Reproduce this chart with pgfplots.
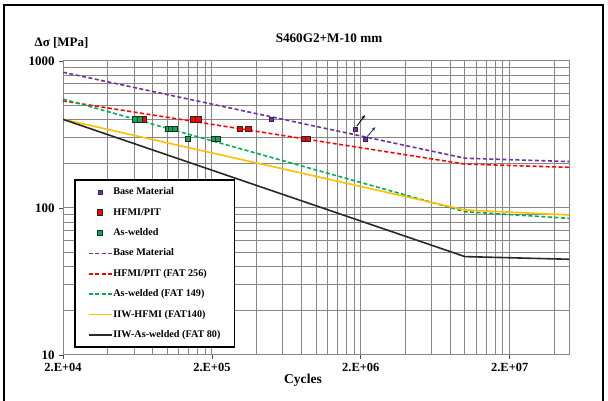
\documentclass[border=0pt]{standalone}
\usepackage{fontspec}
\setmainfont{Liberation Serif}
\usepackage{pgfplots}
\pgfplotsset{compat=1.18}
\usetikzlibrary{arrows.meta}

\definecolor{bmpurple}{RGB}{112,48,160}
\definecolor{hfred}{RGB}{255,0,0}
\definecolor{awgreen}{RGB}{0,176,80}
\definecolor{iiwyellow}{RGB}{255,192,0}
\definecolor{iiwblack}{RGB}{40,40,40}
\definecolor{gridgray}{RGB}{135,135,135}
\definecolor{arrowblue}{RGB}{31,56,120}

\pgfplotsset{
    bmmark/.style={only marks, mark=square*, mark size=2bp,
        mark options={draw=bmpurple!60!black, fill=bmpurple, line width=0.4bp}},
    hfmark/.style={only marks, mark=square*, mark size=2.7bp,
        mark options={draw=black!85, fill=hfred, line width=0.7bp}},
    awmark/.style={only marks, mark=square*, mark size=2.7bp,
        mark options={draw=black!85, fill=awgreen, line width=0.7bp}},
    dashline/.style={line width=1.6bp, dash pattern=on 4bp off 2.5bp},
    solidline/.style={line width=1.6bp},
}

\begin{document}
\begin{tikzpicture}
\path[use as bounding box] (0bp,0bp) rectangle (608bp,401bp);
\draw[line width=1.6bp] (4bp,-2bp) -- (4bp,396bp) -- (603bp,396bp) -- (603bp,-2bp);
\begin{axis}[
    at={(63bp,46bp)}, anchor=south west,
    scale only axis, width=506bp, height=294bp,
    xmode=log, ymode=log,
    xmin=2e4, xmax=5e7, ymin=10, ymax=1000,
    xtick={2e4,2e5,2e6,2e7},
    xticklabels={2.E+04,2.E+05,2.E+06,2.E+07},
    minor xtick={4e4,6e4,8e4,1e5,1.2e5,1.4e5,1.6e5,1.8e5,
                 4e5,6e5,8e5,1e6,1.2e6,1.4e6,1.6e6,1.8e6,
                 4e6,6e6,8e6,1e7,1.2e7,1.4e7,1.6e7,1.8e7,4e7},
    ytick={10,100,1000}, yticklabels={10,100,1000},
    minor ytick={20,30,40,50,60,70,80,90,200,300,400,500,600,700,800,900},
    grid=both,
    major grid style={gridgray, line width=1bp},
    minor grid style={gridgray, line width=1bp},
    axis line style={gridgray, line width=1bp},
    tick align=outside, major tick length=4bp, minor tick length=0bp,
    xtick pos=bottom, ytick pos=left,
    tick style={black!70, line width=0.8bp},
    xticklabel style={font=\fontsize{12.5}{12.5}\selectfont\bfseries, yshift=-1bp},
    yticklabel style={font=\fontsize{13}{13}\selectfont\bfseries, xshift=-1bp},
    legend style={at={(0.0217,0.024)}, anchor=south west, draw=black,
        line width=1.6bp, fill=white, inner xsep=13bp, inner ysep=2bp,
        row sep=0bp, column sep=0bp,
        font=\fontsize{10.2}{10.2}\selectfont\bfseries,
        nodes={inner xsep=1bp, inner ysep=5.7bp, text height=7bp, text depth=2bp}},
    legend cell align=left,
    legend image code/.code={\draw[mark repeat=2,mark phase=2,#1]
        plot coordinates {(0bp,0bp) (11.5bp,0bp) (23bp,0bp)};},
]
% legend in the order of the reference
\addlegendimage{bmmark}
\addlegendentry{Base Material}
\addlegendimage{hfmark}
\addlegendentry{HFMI/PIT}
\addlegendimage{awmark}
\addlegendentry{As-welded}
\addlegendimage{draw=bmpurple, dashline}
\addlegendentry{Base Material}
\addlegendimage{draw=hfred, dashline}
\addlegendentry{HFMI/PIT (FAT 256)}
\addlegendimage{draw=awgreen, dashline}
\addlegendentry{As-welded (FAT 149)}
\addlegendimage{draw=iiwyellow, solidline}
\addlegendentry{IIW-HFMI (FAT140)}
\addlegendimage{draw=iiwblack, solidline}
\addlegendentry{IIW-As-welded (FAT 80)}

% S-N curves
\addplot[forget plot, bmpurple, dashline]
    coordinates {(2e4,838) (1e7,218) (5e7,207)};
\addplot[forget plot, hfred, dashline]
    coordinates {(2e4,535) (1e7,199) (5e7,189)};
\addplot[forget plot, awgreen, dashline]
    coordinates {(2e4,551) (1e7,94.4) (5e7,85)};
\addplot[forget plot, iiwyellow, solidline]
    coordinates {(2e4,401) (1e7,97) (5e7,89.6)};
\addplot[forget plot, iiwblack, solidline]
    coordinates {(2e4,401) (1e7,46.7) (5e7,44.8)};

% test points
\addplot[forget plot, bmmark]
    coordinates {(5.0e5,403) (1.83e6,345) (2.14e6,293)};
\addplot[forget plot, hfmark]
    coordinates {(7.0e4,400) (1.5e5,400) (1.62e5,400) (3.08e5,345) (3.52e5,345)
                 (8.3e5,295) (8.85e5,295)};
\addplot[forget plot, awmark]
    coordinates {(6.05e4,400) (6.55e4,400) (1.01e5,345) (1.07e5,345) (1.13e5,345)
                 (1.38e5,295) (2.08e5,295) (2.2e5,295)};

% run-out arrows
\draw[-{Stealth[length=4bp,width=3.5bp]}, line width=0.9bp, black]
    (axis cs:1.88e6,360) -- (axis cs:2.13e6,428);
\draw[-{Stealth[length=4bp,width=3.5bp]}, line width=0.9bp, arrowblue]
    (axis cs:2.2e6,305) -- (axis cs:2.5e6,355);
\end{axis}
\node[font=\fontsize{13.2}{13.2}\selectfont\bfseries] at (329bp,363bp) {S460G2+M-10 mm};
\node[font=\fontsize{13}{13}\selectfont\bfseries] at (61.5bp,358bp) {Δσ [MPa]};
\node[font=\fontsize{13.6}{13.6}\selectfont\bfseries] at (303bp,21bp) {Cycles};
\end{tikzpicture}
\end{document}
